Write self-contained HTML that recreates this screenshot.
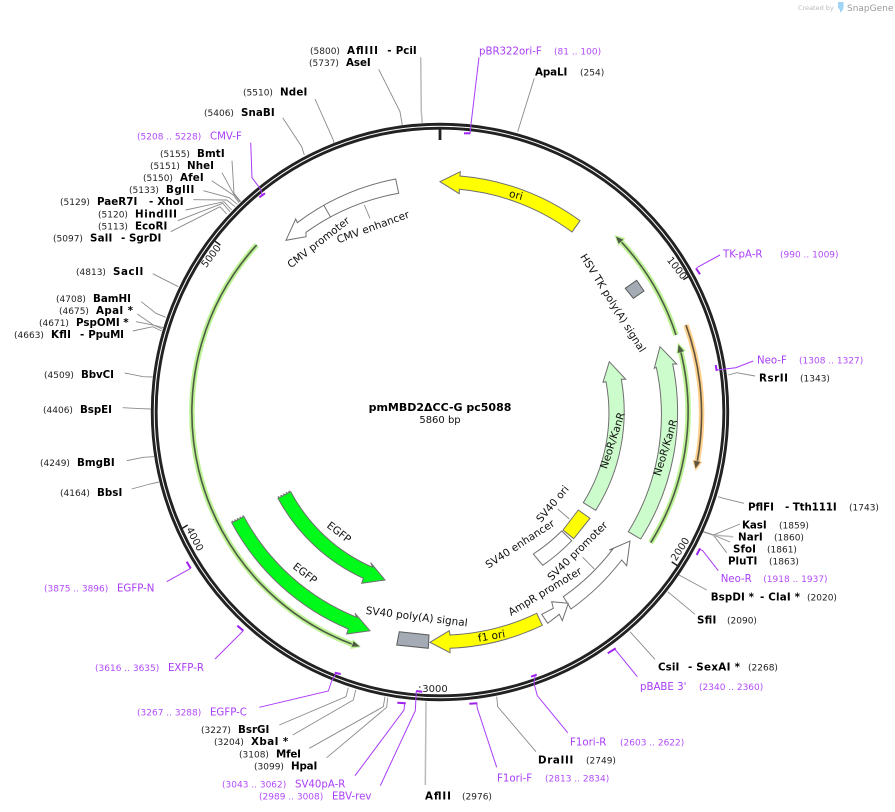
<!DOCTYPE html>
<html><head><meta charset="utf-8"><title>pmMBD2ΔCC-G pc5088</title>
<style>
html,body{margin:0;padding:0;background:#fff;width:895px;height:812px;overflow:hidden}
svg{display:block}
text{font-family:"DejaVu Sans","Liberation Sans",sans-serif;white-space:pre}
.b{font-size:10.3px;font-weight:bold;fill:#000}
.n{font-size:9px;fill:#222}
.p{font-size:10.2px;fill:#a93cf8}
.r{font-size:9px;fill:#b24bfa}
.f{font-size:10.5px;fill:#111;text-anchor:middle}
.t{font-size:10px;fill:#222;text-anchor:middle}
.l{fill:none;stroke:#8a8a8a;stroke-width:.9}
.lt{fill:none;stroke:#bbb;stroke-width:1.5}
.v{fill:none;stroke:#a93cf8;stroke-width:1}
.m{fill:none;stroke:#a020f0;stroke-width:2}
.a{stroke:#6f6f6f;stroke-width:1;stroke-linejoin:miter}
</style></head><body>
<svg xmlns="http://www.w3.org/2000/svg" width="895" height="812" viewBox="0 0 895 812">
<rect width="895" height="812" fill="#fff"/>

<!-- logo -->
<text x="798" y="10" style="font-size:6.5px;fill:#bbb">Created by</text>
<path d="M838 2h5.5v4.5c0 3-1.5 5-3.5 6 .3-2 0-3-2-4.5z" fill="#9fd4f5"/>
<text x="847" y="11" style="font-size:9px;fill:#9a9a9a">SnapGene</text>

<!-- connectors -->
<polyline class="lt" points="420.7,57.3 421.3,111.7 422.3,123"/>
<polyline class="l" points="378.7,69.3 400,111.7 402.3,125"/>
<polyline class="l" points="315,99 333.3,140 334,143"/>
<polyline class="l" points="282.7,117.7 301.7,146.7 304.3,155"/>
<polyline class="l" points="232,160.7 234,193.3 240.7,201.7"/>
<polyline class="l" points="222,172.7 233.3,193.3 240,202"/>
<polyline class="l" points="211.7,180.7 233.3,195 239,202.7"/>
<polyline class="l" points="203.3,190.7 229.3,197.7 237.3,204.3"/>
<polyline class="l" points="193.3,199.7 226.7,200 235,206.7"/>
<polyline class="l" points="185.7,210 224,201.7 231.7,210"/>
<polyline class="l" points="177.7,220.7 222.7,203.3 230,211.7"/>
<polyline class="l" points="170.7,231.7 220,206.7 226.7,214"/>
<polyline class="l" points="152.7,273.7 178.3,286.7"/>
<polyline class="l" points="141.3,301.7 156,313.3 165.7,317.3"/>
<polyline class="l" points="137.3,314 153.3,325 163.3,327.7"/>
<polyline class="l" points="136,321.7 153.3,325 162.3,329"/>
<polyline class="l" points="132.7,331 152.7,326.7 161.7,331"/>
<polyline class="l" points="124.7,373 143.3,376.7 152.7,377"/>
<polyline class="l" points="122.7,407.7 141.7,408.7 150.7,409"/>
<polyline class="l" points="126.7,460.7 143.3,457.3 154,456.7"/>
<polyline class="l" points="131.7,489 150,484 159,482"/>
<polyline class="l" points="279.3,725 346,696.7 348.3,687.7"/>
<polyline class="l" points="292.7,735 353.3,700 355.7,690"/>
<polyline class="l" points="309.3,748.3 383.3,706.7 385,696.7"/>
<polyline class="l" points="326.7,757.7 386.7,707.3 387.7,697.7"/>
<polyline class="lt" points="425.3,785 426,701.7"/>
<polyline class="l" points="536,751.7 497.7,706.7 496.7,696.7"/>
<polyline class="l" points="655,659.3 630,631.7"/>
<polyline class="l" points="695,614.3 667.7,591.7"/>
<polyline class="l" points="706.7,590 679,575"/>
<polyline class="l" points="726.7,552.7 713.3,535 703.3,531.7"/>
<polyline class="l" points="730,542 713.3,535 703.3,531.7"/>
<polyline class="lt" points="733.3,536.7 713.3,535 703.3,531.7"/>
<polyline class="l" points="740,524 713.3,535 703.3,531.7"/>
<polyline class="l" points="744,503.3 723.3,498.3 718.3,496.7"/>
<polyline class="l" points="755,376 736.7,372.7 728.3,375"/>
<polyline class="l" points="534.3,78.3 517.7,131.7"/>

<!-- main ring -->
<circle cx="440" cy="412" r="285.8" fill="none" stroke="#222" stroke-width="6.8"/>
<circle cx="440" cy="412" r="285.8" fill="none" stroke="#fff" stroke-width="1"/>

<!-- ticks -->
<g stroke="#222" stroke-width="1.5" fill="none">
<line x1="440" y1="128" x2="440" y2="140" stroke-width="2.8"/>
<line x1="683.3" y1="279.6" x2="689.5" y2="276"/>
<line x1="671.7" y1="561.9" x2="678.4" y2="566.3"/>
<line x1="419" y1="687" x2="420.5" y2="687" stroke-width="1"/>
<line x1="187.7" y1="525" x2="182" y2="528.5"/>
<line x1="220.3" y1="245.1" x2="213.9" y2="240.3"/>
</g>
<text class="t" transform="translate(677,268) rotate(52)" y="3.5">1000</text>
<text class="t" transform="translate(680,549) rotate(-57)" y="3.5">2000</text>
<text class="t" transform="translate(435,688.5)" y="3.5">3000</text>
<text class="t" transform="translate(195,539) rotate(62)" y="3.5">4000</text>
<text class="t" transform="translate(211,256) rotate(-53)" y="3.5">5000</text>

<!-- primer lines -->
<polyline class="v" points="250.7,142.7 252,177.7 260.7,189.3 262,195"/>
<polyline class="m" points="259.3,197.3 265,193.3"/>
<polyline class="v" points="479,57.3 470.7,126.7 470,133.3"/>
<polyline class="m" points="464,133.3 470.5,133.3"/>
<polyline class="v" points="720,255 696.7,267.7"/>
<polyline class="m" points="696,268.3 700,274.3"/>
<polyline class="v" points="753.3,361 735.7,367.7 716.7,370"/>
<polyline class="m" points="715.7,365 716.7,371"/>
<polyline class="v" points="718.3,570.7 702.7,550.7 699,549"/>
<polyline class="m" points="696.7,555 700,548.3"/>
<polyline class="v" points="637.3,676.7 615,649.3"/>
<polyline class="m" points="607.7,653.3 615.7,648.3"/>
<polyline class="v" points="567.7,732.7 537.3,695.7 534,683.3 535,676"/>
<polyline class="m" points="531,676.7 536.7,674.7"/>
<polyline class="v" points="496.7,767.3 477.3,708.3 476.7,703.3"/>
<polyline class="m" points="469.3,703.7 477.3,703.3"/>
<polyline class="v" points="380.3,785.7 415.3,710.7 416.3,691"/>
<polyline class="m" points="416.3,691 422.3,691.7"/>
<polyline class="v" points="355,775.7 404,710 404.7,703.3"/>
<polyline class="m" points="397.3,702.7 405.7,703.3"/>
<polyline class="v" points="259.3,707.3 328.3,691 331.7,681 336,673.5"/>
<polyline class="m" points="334.7,672.7 340.7,674"/>
<polyline class="v" points="215,659 243.3,630.7"/>
<polyline class="m" points="237.3,625.7 243.3,630.7"/>
<polyline class="v" points="166.7,581.7 190.7,568.3"/>
<polyline class="m" points="186.7,561.7 190.7,568.3"/>

<!-- thin arcs -->
<g fill="none" stroke-linecap="butt">
<path d="M256.7,245 A248 248 0 0 0 353,644.5" stroke="#bdf294" stroke-width="5.5"/>
<path d="M621.4,242 A248.3 248.3 0 0 1 676,335" stroke="#bdf294" stroke-width="5.5"/>
<path d="M680.8,352 A248 248 0 0 1 650.7,542.7" stroke="#bdf294" stroke-width="5.5"/>
<path d="M686,325 A261.5 261.5 0 0 1 697.3,461.2" stroke="#fdcf8a" stroke-width="5.5"/>
<path d="M256.7,245 A248 248 0 0 0 353,644.5" stroke="#4d5a45" stroke-width="1.6"/>
<path d="M621.4,242 A248.3 248.3 0 0 1 676,335" stroke="#4d5a45" stroke-width="1.6"/>
<path d="M680.8,352 A248 248 0 0 1 650.7,542.7" stroke="#4d5a45" stroke-width="1.6"/>
<path d="M686,325 A261.5 261.5 0 0 1 697.3,461.2" stroke="#5f5340" stroke-width="1.6"/>
</g>
<polygon points="361,647 350.2,649 353,639.3" fill="#bdf294"/>
<polygon points="359.8,646.5 351.5,646.8 353.6,641.2" fill="#4d5a45"/>
<polygon points="614.5,235 625.4,238.3 618.2,245.8" fill="#bdf294"/>
<polygon points="615.9,236.6 623.4,239.6 618.7,243.7" fill="#4d5a45"/>
<polygon points="678,342.5 686,350.8 676.4,354" fill="#bdf294"/>
<polygon points="678.5,344.5 684,351.2 677.7,353" fill="#4d5a45"/>
<polygon points="695.5,471 702.4,461.8 692.3,459.8" fill="#fdcf8a"/>
<polygon points="695.5,468.5 700.4,461.9 693.9,460.6" fill="#5f5340"/>

<!-- features -->
<path class="a" fill="#ffff00" d="M580,220.7 A237 237 0 0 0 460,176 L460.3,171.7 L440,181.7 L459.3,193.7 L459.3,189.3 A223.5 223.5 0 0 1 572,232 Z"/>
<text class="f" transform="translate(516,195) rotate(15)" y="3.5">ori</text>

<path class="a" fill="#fff" d="M395.7,179 A237.2 237.2 0 0 0 297.3,222.7 L295.7,219 L286,240.3 L306,236.7 L306,232.3 A224 224 0 0 1 398.7,193.3 Z"/>
<line class="l" x1="323.7" y1="205" x2="330.7" y2="217.3" style="stroke:#666"/>
<line class="l" x1="364.3" y1="205" x2="370" y2="218.3"/>
<text class="f" transform="translate(373,227) rotate(-20)" y="3.5">CMV enhancer</text>
<text class="f" transform="translate(318.5,242.5) rotate(-38)" y="3.5">CMV promoter</text>

<polygon points="625.3,288.3 636.7,280.3 644,291 633.3,298.3" fill="#a4abb5" stroke="#5c5c5c"/>
<text class="f" transform="translate(613,303) rotate(58)" y="3.5">HSV TK poly(A) signal</text>

<path class="a" fill="#ccfbcc" d="M628.3,531.7 A223 223 0 0 0 656.3,367.3 L654.3,368.3 L660,346.7 L676.7,364 L672.7,364 A237.6 237.6 0 0 1 640.7,539 Z"/>
<text class="f" transform="translate(665.5,447.5) rotate(-73)" y="3.5">NeoR/KanR</text>

<path class="a" fill="#ccfbcc" d="M583.3,502.7 A169.6 169.6 0 0 0 606,381.7 L603,382.3 L609.3,361.7 L625.7,379.3 L621.3,379.3 A184.2 184.2 0 0 1 595.7,510.3 Z"/>
<text class="f" transform="translate(612.5,440.5) rotate(-72)" y="3.5">NeoR/KanR</text>

<polygon class="a" fill="#ffff00" points="578.3,510 590,518.3 573.7,538.7 563,530"/>
<path class="a" fill="#fff" d="M561.7,531 A169 169 0 0 1 533.3,554 L542.7,565.3 A184 184 0 0 0 571.7,540.7 Z"/>
<line class="l" x1="557.7" y1="509" x2="569.3" y2="519"/>
<text class="f" transform="translate(552.5,504) rotate(-50)" y="3.5">SV40 ori</text>
<text class="f" transform="translate(520,544) rotate(-33)" y="3.5">SV40 enhancer</text>

<path class="a" fill="#fff" d="M563.3,596.7 A222 222 0 0 0 612.7,549.3 L609.3,550 L630,541 L626.7,565.7 L621.7,560 A236.6 236.6 0 0 1 571,609 Z"/>
<line class="l" x1="582.7" y1="557.3" x2="594.3" y2="569"/>
<text class="f" transform="translate(577.5,551) rotate(-44.5)" y="3.5">SV40 promoter</text>

<polygon class="a" fill="#fff" points="541.7,614.3 553.3,608.3 551.7,601.7 568.3,603.3 562.3,620.7 559.3,614.3 547.7,623.3"/>
<text class="f" transform="translate(545,591.5) rotate(-31)" y="3.5">AmpR promoter</text>

<path class="a" fill="#ffff00" d="M536.7,613.3 A223 223 0 0 1 450,635 L449.3,630.7 L430,642.3 L450,652.7 L450,648.3 A236.4 236.4 0 0 0 542.3,625.3 Z"/>
<text class="f" transform="translate(491.5,636) rotate(-10)" y="3.5">f1 ori</text>

<polygon points="399.3,631.7 429,635 428.3,648.3 396.7,645" fill="#a4abb5" stroke="#5c5c5c"/>
<text class="f" transform="translate(416.7,616.7) rotate(7)" y="3.5">SV40 poly(A) signal</text>

<path class="a" fill="#00fa1a" d="M231.7,522.7 A235.7 235.7 0 0 0 348.3,629 L346.7,634 L370,630.7 L355,613.3 L356.7,617.3 A221.6 221.6 0 0 1 244,516.7 Z"/>
<line x1="231.7" y1="522" x2="244" y2="516" stroke="#777" stroke-width="2" stroke-dasharray="1.5 1.5"/>
<text class="f" transform="translate(305,573.3) rotate(38)" y="3.5">EGFP</text>

<path class="a" fill="#00fa1a" d="M278,498.3 A183.3 183.3 0 0 0 363.3,578.3 L361.7,583.3 L385,580 L370.7,562.7 L372.7,567.3 A169.3 169.3 0 0 1 290.7,491.7 Z"/>
<line x1="278" y1="497.6" x2="290.7" y2="491" stroke="#777" stroke-width="2" stroke-dasharray="1.5 1.5"/>
<text class="f" transform="translate(339,532.3) rotate(38)" y="3.5">EGFP</text>

<!-- center -->
<text x="440" y="411" text-anchor="middle" style="font-size:11px;font-weight:bold;fill:#000">pmMBD2ΔCC-G pc5088</text>
<text x="440" y="423" text-anchor="middle" style="font-size:10px;fill:#111">5860 bp</text>

<!-- labels -->
<text class="n" x="310" y="54">(5800)</text><text class="b" x="347" y="54" textLength="31">AflIII</text><text class="b" x="387.3" y="54">-</text><text class="b" x="395.7" y="54" textLength="21">PciI</text>
<text class="n" x="309" y="66">(5737)</text><text class="b" x="346" y="66" textLength="24.7">AseI</text>
<text class="n" x="243" y="95.5">(5510)</text><text class="b" x="280" y="95.5" textLength="27.3">NdeI</text>
<text class="n" x="204" y="116">(5406)</text><text class="b" x="241" y="116" textLength="33.7">SnaBI</text>
<text class="r" x="137" y="139.5">(5208 .. 5228)</text><text class="p" x="210" y="139.5">CMV-F</text>
<text class="n" x="160" y="157">(5155)</text><text class="b" x="197" y="157" textLength="27.7">BmtI</text>
<text class="n" x="150" y="169">(5151)</text><text class="b" x="187" y="169" textLength="27">NheI</text>
<text class="n" x="143" y="181">(5150)</text><text class="b" x="180" y="181" textLength="23.7">AfeI</text>
<text class="n" x="129" y="193">(5133)</text><text class="b" x="166" y="193" textLength="28.3">BglII</text>
<text class="n" x="60" y="205">(5129)</text><text class="b" x="97" y="205" textLength="40.3">PaeR7I</text><text class="b" x="149" y="205">-</text><text class="b" x="157.3" y="205" textLength="26.3">XhoI</text>
<text class="n" x="98" y="217.5">(5120)</text><text class="b" x="135" y="217.5" textLength="42">HindIII</text>
<text class="n" x="98" y="229.5">(5113)</text><text class="b" x="135" y="229.5" textLength="32.3">EcoRI</text>
<text class="n" x="53" y="241.5">(5097)</text><text class="b" x="90" y="241.5" textLength="22.3">SalI</text><text class="b" x="121" y="241.5">-</text><text class="b" x="129" y="241.5" textLength="32.3">SgrDI</text>
<text class="n" x="76" y="275">(4813)</text><text class="b" x="113" y="275" textLength="30.3">SacII</text>
<text class="n" x="56" y="302">(4708)</text><text class="b" x="93" y="302" textLength="38">BamHI</text>
<text class="n" x="59" y="314">(4675)</text><text class="b" x="96" y="314" textLength="37">ApaI *</text>
<text class="n" x="39" y="326">(4671)</text><text class="b" x="76" y="326" textLength="52.7">PspOMI *</text>
<text class="n" x="14" y="338">(4663)</text><text class="b" x="51" y="338" textLength="20">KflI</text><text class="b" x="80" y="338">-</text><text class="b" x="88.3" y="338" textLength="35.7">PpuMI</text>
<text class="n" x="44" y="378">(4509)</text><text class="b" x="81" y="378" textLength="33">BbvCI</text>
<text class="n" x="43" y="413">(4406)</text><text class="b" x="80" y="413" textLength="32">BspEI</text>
<text class="n" x="40" y="466">(4249)</text><text class="b" x="77" y="466" textLength="37.7">BmgBI</text>
<text class="n" x="60" y="496">(4164)</text><text class="b" x="97" y="496" textLength="25.3">BbsI</text>
<text class="r" x="44" y="591.5">(3875 .. 3896)</text><text class="p" x="117" y="591.5">EGFP-N</text>
<text class="r" x="95" y="671">(3616 .. 3635)</text><text class="p" x="168" y="671">EXFP-R</text>
<text class="r" x="137" y="715.5">(3267 .. 3288)</text><text class="p" x="210" y="715.5">EGFP-C</text>
<text class="n" x="201" y="733">(3227)</text><text class="b" x="238" y="733" textLength="31.3">BsrGI</text>
<text class="n" x="214" y="745">(3204)</text><text class="b" x="251" y="745" textLength="37.3">XbaI *</text>
<text class="n" x="239" y="757.5">(3108)</text><text class="b" x="276" y="757.5" textLength="25">MfeI</text>
<text class="n" x="254" y="769.5">(3099)</text><text class="b" x="291" y="769.5" textLength="26.3">HpaI</text>
<text class="r" x="222" y="787.5">(3043 .. 3062)</text><text class="p" x="295" y="787.5">SV40pA-R</text>
<text class="r" x="259" y="799.5">(2989 .. 3008)</text><text class="p" x="332" y="799.5">EBV-rev</text>
<text class="b" x="425" y="799.5" textLength="26">AflII</text><text class="n" x="462" y="799.5">(2976)</text>
<text class="p" x="497" y="781.5">F1ori-F</text><text class="r" x="545" y="781.5">(2813 .. 2834)</text>
<text class="b" x="538" y="763.5" textLength="35.3">DraIII</text><text class="n" x="586" y="763.5">(2749)</text>
<text class="p" x="570" y="745.5">F1ori-R</text><text class="r" x="620" y="745.5">(2603 .. 2622)</text>
<text class="p" x="640" y="690">pBABE 3'</text><text class="r" x="699" y="690">(2340 .. 2360)</text>
<text class="b" x="658" y="670.5" textLength="21.3">CsiI</text><text class="b" x="688" y="670.5">-</text><text class="b" x="696.3" y="670.5" textLength="43.7">SexAI *</text><text class="n" x="748" y="670.5">(2268)</text>
<text class="b" x="697" y="623.5" textLength="19.3">SfiI</text><text class="n" x="727" y="623.5">(2090)</text>
<text class="b" x="710.7" y="600.5" textLength="43.3">BspDI *</text><text class="b" x="760" y="600.5">-</text><text class="b" x="768.3" y="600.5" textLength="31.7">ClaI *</text><text class="n" x="807" y="600.5">(2020)</text>
<text class="p" x="720.7" y="582">Neo-R</text><text class="r" x="763.3" y="582">(1918 .. 1937)</text>
<text class="b" x="728" y="564.5" textLength="29.3">PluTI</text><text class="n" x="769" y="564.5">(1863)</text>
<text class="b" x="733" y="552.5" textLength="23">SfoI</text><text class="n" x="767" y="552.5">(1861)</text>
<text class="b" x="738" y="540.5" textLength="24.7">NarI</text><text class="n" x="774" y="540.5">(1860)</text>
<text class="b" x="742" y="528.5" textLength="24.7">KasI</text><text class="n" x="779" y="528.5">(1859)</text>
<text class="b" x="748" y="510.5" textLength="26">PflFI</text><text class="b" x="785" y="510.5">-</text><text class="b" x="792.7" y="510.5" textLength="44">Tth111I</text><text class="n" x="849" y="510.5">(1743)</text>
<text class="b" x="759" y="381.5" textLength="29">RsrII</text><text class="n" x="800" y="381.5">(1343)</text>
<text class="p" x="757" y="363.5">Neo-F</text><text class="r" x="799" y="363.5">(1308 .. 1327)</text>
<text class="p" x="723" y="257.5">TK-pA-R</text><text class="r" x="780" y="257.5">(990 .. 1009)</text>
<text class="b" x="535" y="75.5" textLength="32.3">ApaLI</text><text class="n" x="580" y="75.5">(254)</text>
<text class="p" x="479" y="54.5">pBR322ori-F</text><text class="r" x="554" y="54.5">(81 .. 100)</text>
</svg>
</body></html>
